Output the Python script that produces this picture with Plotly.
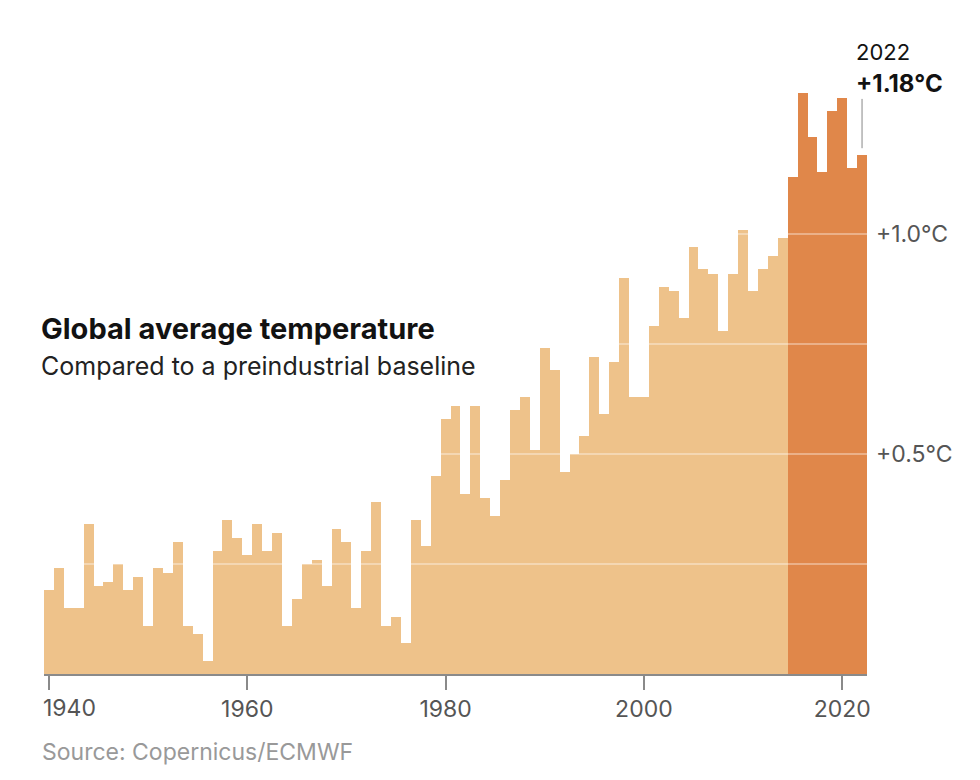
import plotly.graph_objects as go

years = list(range(1940, 2023))
anomaly = [
    0.19, 0.24, 0.15, 0.15, 0.34, 0.20, 0.21, 0.25, 0.19, 0.22,
    0.11, 0.24, 0.23, 0.30, 0.11, 0.09, 0.03, 0.28, 0.35, 0.31,
    0.27, 0.34, 0.28, 0.32, 0.11, 0.17, 0.25, 0.26, 0.20, 0.33,
    0.30, 0.15, 0.28, 0.39, 0.11, 0.13, 0.07, 0.35, 0.29, 0.45,
    0.58, 0.61, 0.41, 0.61, 0.40, 0.36, 0.44, 0.60, 0.63, 0.51,
    0.74, 0.69, 0.46, 0.50, 0.54, 0.72, 0.59, 0.71, 0.90, 0.63,
    0.63, 0.79, 0.88, 0.87, 0.81, 0.97, 0.92, 0.91, 0.78, 0.91,
    1.01, 0.87, 0.92, 0.95, 0.99, 1.13, 1.32, 1.22, 1.14, 1.28,
    1.31, 1.15, 1.18,
]
x_ticks = [1940, 1960, 1980, 2000, 2020]
x_labels = ["", "1960", "1980", "2000", "2020"]  # 1940 is placed by hand, flush left
y_ticks = [0.25, 0.5, 0.75, 1.0]
y_labels = ["", "+0.5°C", "", "+1.0°C"]

LIGHT = "#EEC28A"
DARK = "#E0874A"
FONT = "Inter"

# recent years (2015 on) in the darker orange
colors = [DARK if y >= 2015 else LIGHT for y in years]

fig = go.Figure()
fig.add_trace(go.Bar(x=years, y=anomaly, marker_color=colors,
                     marker_line_width=0, hoverinfo="x+y"))

fig.update_layout(
    width=980, height=780,
    margin=dict(l=36, r=121, t=28, b=114),
    plot_bgcolor="white", paper_bgcolor="white",
    bargap=0, showlegend=False,
    font=dict(family=FONT, color="#555", size=22),
)
fig.update_xaxes(
    range=[1939.5, 2022.5], tickvals=x_ticks, ticktext=x_labels, showgrid=False,
    showline=True, linecolor="#8a8a8a", linewidth=1.5,
    ticks="outside", ticklen=14, tickcolor="#8a8a8a", tickwidth=1.5,
    tickfont=dict(size=23, color="#555"), zeroline=False,
)
fig.update_yaxes(
    range=[0, 1.45], side="right", tickvals=y_ticks, ticktext=y_labels,
    showgrid=False, zeroline=False, showline=False, ticks="",
    ticklabelstandoff=8, tickfont=dict(size=23, color="#555"),
)

# white gridlines drawn over the bars
for v in y_ticks:
    fig.add_shape(type="line", xref="paper", x0=0, x1=1, y0=v, y1=v,
                  layer="above", line=dict(color="rgba(255,255,255,0.7)", width=1.2))

fig.add_annotation(xref="paper", yref="paper", x=-0.004, y=-0.0535, xanchor="left",
                   yanchor="middle", text="1940", showarrow=False,
                   font=dict(size=23, color="#555"))

fig.add_annotation(xref="paper", yref="y", x=-0.006, y=0.786, xanchor="left",
                   text="<b>Global average temperature</b>", showarrow=False,
                   font=dict(size=29, color="#121212", family=FONT))
fig.add_annotation(xref="paper", yref="y", x=-0.006, y=0.70, xanchor="left",
                   text="Compared to a preindustrial baseline", showarrow=False,
                   font=dict(size=25, color="#222", family=FONT))

# 2022 callout
fig.add_annotation(x=2021.2, y=1.414, xanchor="left", text="2022",
                   showarrow=False, font=dict(size=22, color="#121212"))
fig.add_annotation(x=2021.2, y=1.343, xanchor="left", text="<b>+1.18°C</b>",
                   showarrow=False, font=dict(size=24, color="#121212"))
fig.add_shape(type="line", x0=2022, x1=2022, y0=anomaly[-1] + 0.015, y1=1.307,
              line=dict(color="#888", width=1))

fig.add_annotation(xref="paper", yref="paper", x=-0.005, y=-0.122, xanchor="left",
                   yanchor="middle", text="Source: Copernicus/ECMWF", showarrow=False,
                   font=dict(size=23, color="#999"))

fig.write_html("out.html")
